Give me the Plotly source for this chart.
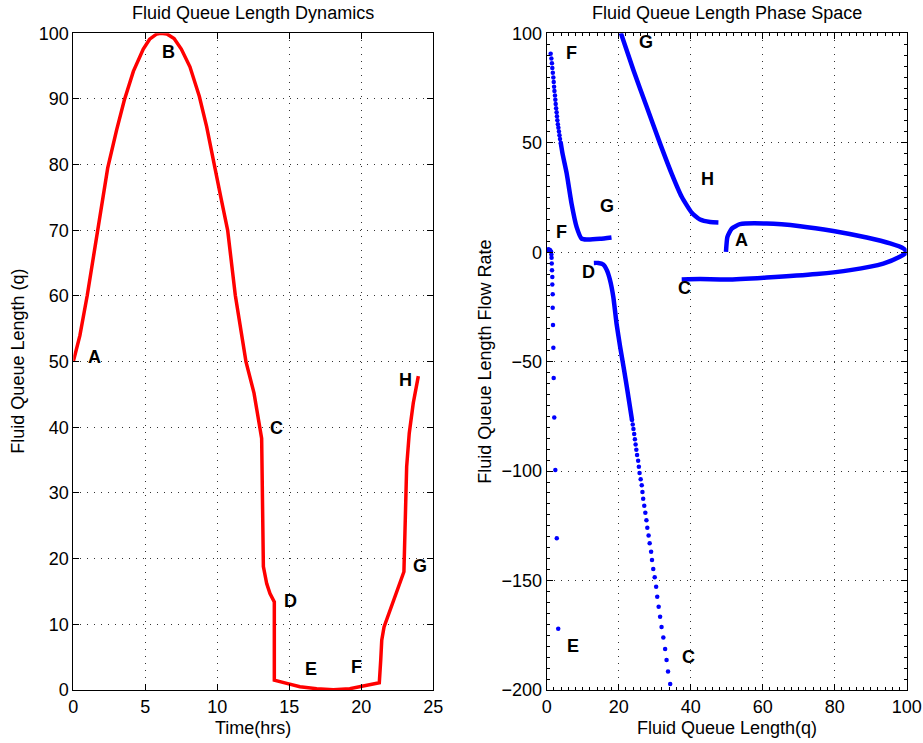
import plotly.graph_objects as go

# ---------------- Left panel: queue length vs time ----------------
t_hours = [0, 0.46, 0.97, 1.5, 1.9, 2.39, 3.01, 3.54, 4.17, 4.86, 5.3, 5.8, 6.09,
           6.5, 7.0, 7.5, 8.1, 8.75, 9.26, 9.75, 10.24, 10.72, 11.25, 11.99, 12.55,
           13.08, 13.13, 13.2, 13.43, 13.66, 13.96, 13.96, 14.82, 15.74, 16.9,
           18.06, 19.2, 20.37, 21.25, 21.35, 21.42, 21.58, 22.0, 22.57, 22.96,
           23.03, 23.1, 23.15, 23.33, 23.61, 23.96]
q_len = [50, 54, 60.1, 67.5, 73.5, 79.5, 85.3, 89.8, 94.2, 97.6, 99.1, 99.9, 100,
         99.9, 99.2, 97.6, 94.9, 90.4, 85.8, 80.1, 75.1, 70, 60.1, 50, 45.2,
         38.3, 30, 18.8, 16.2, 14.7, 13.4, 1.5, 1.0, 0.5, 0.2,
         0.05, 0.2, 0.7, 1.1, 4.6, 7.6, 9.6, 12.2, 15.5, 18,
         23.9, 28.9, 34, 39.1, 43.7, 47.8]

left_labels = ["A", "B", "C", "D", "E", "F", "G", "H"]
left_label_t = [1.5, 6.6, 14.1, 15.1, 16.5, 19.7, 24.1, 23.1]
left_label_q = [50.7, 97.1, 39.9, 13.6, 3.2, 3.5, 18.9, 47.2]

# ---------------- Right panel: phase space (q, dq/dt) ----------------
# A -> B -> C loop (dense)
abc_q = [49.8, 50.2, 51.4, 53.7, 61.1, 70.4, 79.6, 88.9, 95.4, 99.1, 100,
         98.1, 93.5, 84.3, 75, 61.1, 50, 42.6, 37.5]
abc_r = [0.1, 7, 10.8, 12.8, 13.1, 11.9, 9.7, 6.7, 4.0, 1.7, 0,
         -2.1, -5.2, -8.2, -10, -11.6, -12.5, -12.3, -12.5]

# G -> H (dense)
gh_q = [20.6, 24.1, 27.8, 31.5, 34.7, 37.5, 40.3, 42.6, 45.4, 47.7]
gh_r = [100.1, 83.1, 66.3, 49.6, 35.9, 25.3, 18, 14.9, 13.8, 13.6]

# F -> G sparse top part
fg_sparse_q = [1.1, 1.3, 1.45, 1.56, 1.7, 1.85, 1.95, 2.05, 2.15, 2.3, 2.4, 2.5,
               2.62, 2.75, 2.85, 2.96, 3.1, 3.25, 3.4, 3.55, 3.7, 3.9]
fg_sparse_r = [90.7, 88.5, 86.3, 84.1, 82.0, 79.8, 77.7, 75.6, 73.6, 71.6, 69.6,
               67.7, 65.8, 63.9, 62.1, 60.3, 58.5, 56.8, 55.1, 53.4, 51.7, 50.0]
# F -> G dense part
fg_dense_q = [3.9, 4.4, 5.56, 6.9, 8.3, 9.7, 11.1, 14.8, 18.0]
fg_dense_r = [50.0, 45.0, 35.9, 22.2, 11.6, 6.2, 5.8, 6.1, 6.7]

# C -> D sparse lower part
cd_sparse_q = [34.3, 33.7, 33.3, 32.9, 32.4, 31.9, 31.5, 31.1, 30.7, 30.4, 30.0,
               29.6, 29.25, 29.0, 28.6, 28.3, 27.95, 27.7, 27.4, 27.1, 26.8, 26.6,
               26.4, 26.1, 25.8, 25.6, 25.4, 25.1, 24.9, 24.7, 24.5, 24.3, 24.1,
               23.9, 23.7]
cd_sparse_r = [-197.3, -191.6, -186.3, -181.3, -176, -171.2, -166.5, -162, -157.4,
               -152.8, -148.5, -144.7, -140.6, -136.8, -133, -129.4, -125.9, -122.4,
               -119, -115.8, -112.6, -109.6, -106.5, -103.7, -100.9, -98, -95.3,
               -92.7, -90.3, -87.8, -85.4, -83.1, -80.8, -78.7, -76.7]
# C -> D dense upper part
cd_dense_q = [23.7, 22.4, 21.5, 20.4, 19.4, 18.5, 17.6, 16.7, 15.7, 14.3, 13.1]
cd_dense_r = [-76.7, -63, -53.9, -43.2, -32.6, -20.4, -12.8, -8.2, -5.6, -4.9, -4.9]

# E drop (sparse) and cluster near the origin
e_q = [0.2, 0.5, 0.9, 1.2, 1.3, 1.35, 1.4, 1.47, 1.56, 1.56, 1.67, 1.67, 1.75,
       1.85, 1.94, 2.1, 2.4, 2.8, 3.2]
e_r = [1.0, 1.3, 1.0, 0.3, -1.0, -2.5, -5.2, -8.2, -11.3, -14.8, -19.2, -25.4,
       -33.3, -43.7, -57.5, -75.5, -99.5, -130.7, -172]

right_labels = ["F", "G", "H", "G", "F", "A", "B", "D", "C", "E", "C"]
right_label_q = [6.75, 27.6, 44.8, 16.75, 4.0, 54.0, 102.6, 11.5, 38.4, 7.3, 39.5]
right_label_r = [90.9, 95.9, 33.3, 21.0, 9.1, 5.5, 5.0, -9.1, -16.4, -180, -185]

FONT = "Liberation Sans, Arial, Helvetica, sans-serif"
BLUE = "#0000FF"

fig = go.Figure()

fig.add_trace(go.Scatter(x=t_hours, y=q_len, mode="lines",
                         line=dict(color="#FF0000", width=3.5),
                         xaxis="x", yaxis="y", showlegend=False))

for xs, ys in [(abc_q, abc_r), (gh_q, gh_r), (fg_dense_q, fg_dense_r),
               (cd_dense_q, cd_dense_r)]:
    fig.add_trace(go.Scatter(x=xs, y=ys, mode="lines",
                             line=dict(color=BLUE, width=4.5, shape="spline", smoothing=0.5),
                             xaxis="x2", yaxis="y2", showlegend=False))

for xs, ys in [(fg_sparse_q, fg_sparse_r), (cd_sparse_q, cd_sparse_r), (e_q, e_r)]:
    fig.add_trace(go.Scatter(x=xs, y=ys, mode="markers",
                             marker=dict(color=BLUE, size=4.5),
                             xaxis="x2", yaxis="y2", showlegend=False))

annotations = []
for txt, x, y in zip(left_labels, left_label_t, left_label_q):
    annotations.append(dict(text="<b>%s</b>" % txt, x=x, y=y, xref="x", yref="y",
                            showarrow=False, font=dict(size=18, color="black", family=FONT)))
for txt, x, y in zip(right_labels, right_label_q, right_label_r):
    annotations.append(dict(text="<b>%s</b>" % txt, x=x, y=y, xref="x2", yref="y2",
                            showarrow=False, font=dict(size=18, color="black", family=FONT)))

W, H = 923, 743
L1, R1 = 73.3, 433.3
L2, R2 = 546.7, 906.7
TOP, BOT = 33.3, 690.0


def px(v):
    return v / W


def py(v):
    return 1 - v / H


txt_font = dict(size=18, color="black", family=FONT)
annotations += [
    dict(text="Fluid Queue Length Dynamics", x=px((L1 + R1) / 2), y=py(13),
         xref="paper", yref="paper", showarrow=False, font=txt_font,
         xanchor="center", yanchor="middle"),
    dict(text="Fluid Queue Length Phase Space", x=px((L2 + R2) / 2), y=py(13),
         xref="paper", yref="paper", showarrow=False, font=txt_font,
         xanchor="center", yanchor="middle"),
    dict(text="Time(hrs)", x=px((L1 + R1) / 2), y=py(728),
         xref="paper", yref="paper", showarrow=False, font=txt_font,
         xanchor="center", yanchor="middle"),
    dict(text="Fluid Queue Length(q)", x=px((L2 + R2) / 2), y=py(728),
         xref="paper", yref="paper", showarrow=False, font=txt_font,
         xanchor="center", yanchor="middle"),
    dict(text="Fluid Queue Length (q)", x=px(18), y=py((TOP + BOT) / 2),
         xref="paper", yref="paper", showarrow=False, font=txt_font, textangle=-90,
         xanchor="center", yanchor="middle"),
    dict(text="Fluid Queue Length Flow Rate", x=px(485), y=py((TOP + BOT) / 2),
         xref="paper", yref="paper", showarrow=False, font=txt_font, textangle=-90,
         xanchor="center", yanchor="middle"),
]

axis_common = dict(showline=True, linecolor="black", linewidth=1, mirror="ticks",
                   ticks="inside", ticklen=6, tickcolor="black",
                   showgrid=True, gridcolor="rgba(0,0,0,0.8)", griddash="1px,6px",
                   gridwidth=1, zeroline=False, automargin=False,
                   tickfont=dict(size=18, color="black", family=FONT))

fig.update_layout(
    width=W, height=H, margin=dict(l=0, r=0, t=0, b=0, autoexpand=False),
    paper_bgcolor="white", plot_bgcolor="white",
    xaxis=dict(domain=[px(L1), px(R1)], range=[0, 25], dtick=5, anchor="y", **axis_common),
    yaxis=dict(domain=[py(BOT), py(TOP)], range=[0, 100], dtick=10, anchor="x", **axis_common),
    xaxis2=dict(domain=[px(L2), px(R2)], range=[0, 100], dtick=20, anchor="y2",
                minor=dict(ticks="inside", ticklen=3, dtick=2, tickcolor="black", showgrid=False),
                **axis_common),
    yaxis2=dict(domain=[py(BOT), py(TOP)], range=[-200, 100], dtick=50, anchor="x2",
                minor=dict(ticks="inside", ticklen=3, dtick=5, tickcolor="black", showgrid=False),
                **axis_common),
    annotations=annotations,
)

# remove the default 8px page margin so the figure fills the window exactly
fig.write_html("out.html", config={"displayModeBar": False},
               post_script="document.body.style.margin='0';document.body.style.overflow='hidden';")
